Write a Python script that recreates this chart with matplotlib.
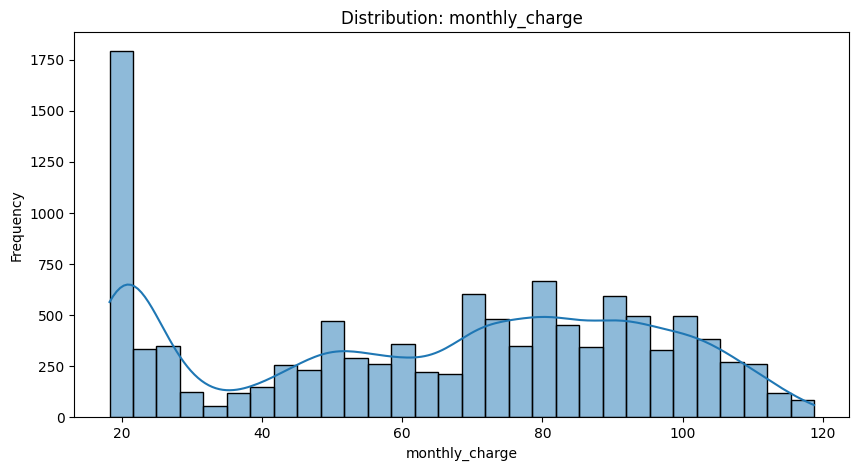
import matplotlib
matplotlib.use('Agg')
import matplotlib.pyplot as plt
import numpy as np
import pandas as pd
import seaborn as sns

# Histogram of monthly_charge
bin_lo = 18.25
bin_hi = 118.75
n_bins = 30
counts = [1795, 333, 348, 122, 57, 118, 147, 255, 230, 470,
          289, 260, 359, 220, 210, 605, 482, 350, 667, 453,
          345, 596, 498, 330, 498, 384, 273, 260, 120, 85]

edges = np.linspace(bin_lo, bin_hi, n_bins + 1)
centers = 0.5 * (edges[:-1] + edges[1:])

# Bin centres weighted by counts, with zero weight end points so the kde spans the full range
df = pd.DataFrame({
    'monthly_charge': np.concatenate([[edges[0]], centers, [edges[-1]]]),
    'count': np.concatenate([[0], counts, [0]]).astype(float),
})

# Scott's rule on the original sample size instead of the weighted one,
# a bit narrower to make up for the binning spread
n_total = df['count'].sum()
n_eff = n_total**2 / (df['count']**2).sum()
bw_adj = 0.96 * (n_eff / n_total)**0.2

fig = plt.figure(figsize=(8.59, 4.7), dpi=100)
ax = fig.add_axes([0.0865, 0.1121, 0.9022, 0.8192])

sns.histplot(data=df, x='monthly_charge', weights='count', bins=n_bins,
             binrange=(bin_lo, bin_hi), kde=True, edgecolor='black',
             kde_kws={'bw_adjust': bw_adj}, ax=ax)

ax.set_title('Distribution: monthly_charge')
ax.set_xlabel('monthly_charge')
ax.set_ylabel('Frequency')

plt.savefig('out.png', dpi=100)
